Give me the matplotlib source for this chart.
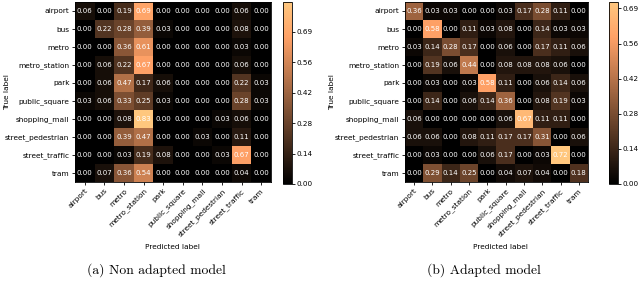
import numpy as np
import matplotlib
matplotlib.use("Agg")
import matplotlib.pyplot as plt

labels = ["airport", "bus", "metro", "metro_station", "park", "public_square",
          "shopping_mall", "street_pedestrian", "street_traffic", "tram"]

cm_non_adapted = np.array([
    [0.06, 0.00, 0.19, 0.69, 0.00, 0.00, 0.00, 0.00, 0.06, 0.00],
    [0.00, 0.22, 0.28, 0.39, 0.03, 0.00, 0.00, 0.00, 0.08, 0.00],
    [0.00, 0.00, 0.36, 0.61, 0.00, 0.00, 0.00, 0.00, 0.03, 0.00],
    [0.00, 0.06, 0.22, 0.67, 0.00, 0.00, 0.00, 0.00, 0.06, 0.00],
    [0.00, 0.06, 0.47, 0.17, 0.06, 0.00, 0.00, 0.00, 0.22, 0.03],
    [0.03, 0.06, 0.33, 0.25, 0.03, 0.00, 0.00, 0.00, 0.28, 0.03],
    [0.00, 0.00, 0.08, 0.83, 0.00, 0.00, 0.00, 0.03, 0.06, 0.00],
    [0.00, 0.00, 0.39, 0.47, 0.00, 0.00, 0.03, 0.00, 0.11, 0.00],
    [0.00, 0.00, 0.03, 0.19, 0.08, 0.00, 0.00, 0.03, 0.67, 0.00],
    [0.00, 0.07, 0.36, 0.54, 0.00, 0.00, 0.00, 0.00, 0.04, 0.00],
])

cm_adapted = np.array([
    [0.36, 0.03, 0.03, 0.00, 0.00, 0.03, 0.17, 0.28, 0.11, 0.00],
    [0.00, 0.58, 0.00, 0.11, 0.03, 0.08, 0.00, 0.14, 0.03, 0.03],
    [0.03, 0.14, 0.28, 0.17, 0.00, 0.06, 0.00, 0.17, 0.11, 0.06],
    [0.00, 0.19, 0.06, 0.44, 0.00, 0.08, 0.08, 0.08, 0.06, 0.00],
    [0.00, 0.03, 0.00, 0.03, 0.58, 0.11, 0.00, 0.06, 0.14, 0.06],
    [0.00, 0.14, 0.00, 0.06, 0.14, 0.36, 0.00, 0.08, 0.19, 0.03],
    [0.06, 0.00, 0.00, 0.00, 0.00, 0.06, 0.67, 0.11, 0.11, 0.00],
    [0.06, 0.06, 0.00, 0.08, 0.11, 0.17, 0.17, 0.31, 0.00, 0.06],
    [0.00, 0.03, 0.00, 0.00, 0.06, 0.17, 0.00, 0.03, 0.72, 0.00],
    [0.00, 0.29, 0.14, 0.25, 0.00, 0.04, 0.07, 0.04, 0.00, 0.18],
])

captions = ["(a) Non adapted model", "(b) Adapted model"]
cbar_ticks = np.linspace(0, 5 / 6, 7)

W, H = 640, 281
fig = plt.figure(figsize=(W / 100, H / 100), dpi=100)


def px(x, y, w, h):
    return [x / W, (H - y - h) / H, w / W, h / H]


panels = [
    (cm_non_adapted, px(75, 2, 196, 180), px(283, 2, 9, 182), 172, 156, 7),
    (cm_adapted, px(405, 2, 183, 180), px(609, 2, 9, 182), 500, 484, 332),
]

for i, (mat, axpos, cbpos, cx, capx, ylx) in enumerate(panels):
    ax = fig.add_axes(axpos)
    im = ax.imshow(mat, cmap="copper", aspect="auto", interpolation="nearest",
                   vmin=0, vmax=mat.max())
    for r in range(mat.shape[0]):
        for c in range(mat.shape[1]):
            ax.text(c, r, f"{mat[r, c]:.2f}", ha="center", va="center",
                    color="white", fontsize=5)
    ax.set_xticks(range(len(labels)))
    ax.set_yticks(range(len(labels)))
    ax.set_xticklabels(labels, rotation=45, ha="right", rotation_mode="anchor",
                       fontsize=5.3)
    ax.set_yticklabels(labels, fontsize=5.3)
    ax.tick_params(length=2.5, width=0.6, pad=1.5)
    for s in ax.spines.values():
        s.set_linewidth(0.6)
    cax = fig.add_axes(cbpos)
    cb = fig.colorbar(im, cax=cax)
    ticks = cbar_ticks[cbar_ticks <= mat.max() + 1e-9]
    cb.set_ticks(ticks)
    cb.ax.set_yticklabels([f"{t:.2f}" for t in ticks])
    cb.ax.tick_params(labelsize=5.2, length=2, width=0.6, pad=1)
    cb.outline.set_linewidth(0.6)
    fig.text(cx / W, 1 - 247 / H, "Predicted label", ha="center", va="center",
             fontsize=5.3)
    fig.text(ylx / W, 1 - 92 / H, "True label", ha="center", va="center",
             rotation=90, fontsize=5.3)
    fig.text(capx / W, 1 - 270 / H, captions[i], ha="center", va="center",
             fontsize=9.8, family="cmr10")

fig.savefig("out.png", dpi=100)
